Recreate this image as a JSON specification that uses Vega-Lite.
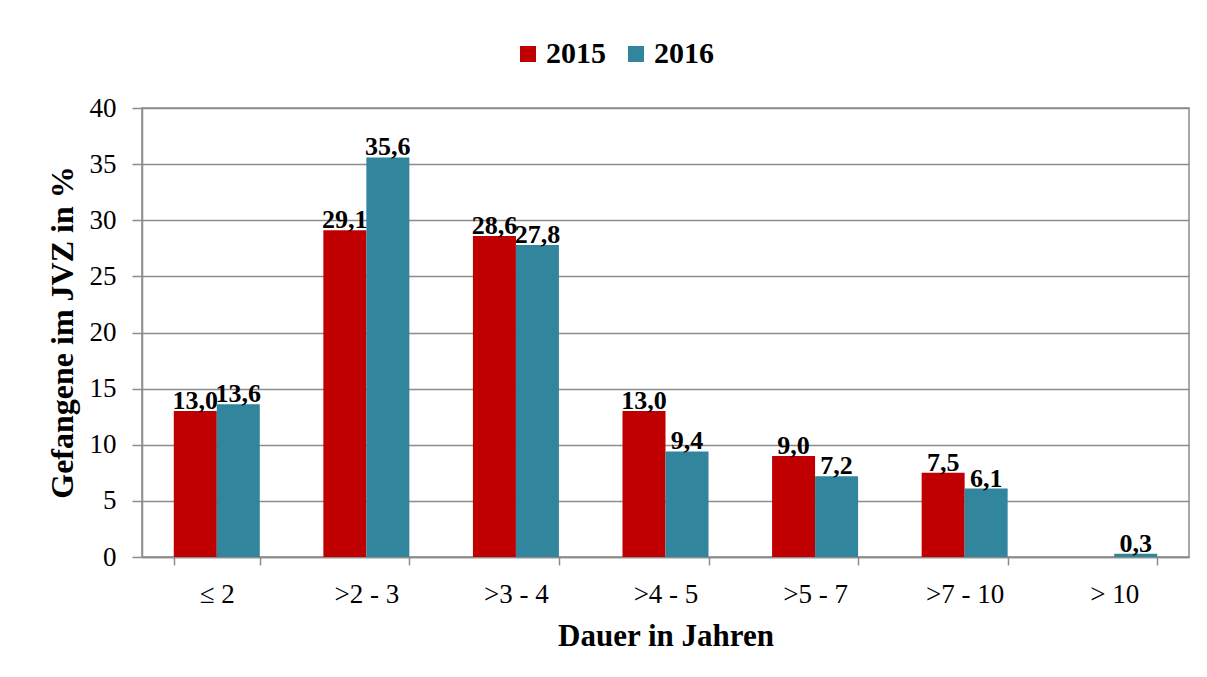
{
  "$schema": "https://vega.github.io/schema/vega-lite/v6.json",
  "autosize": {"type": "none"},
  "width": 1047,
  "height": 449,
  "padding": {"left": 142, "top": 108, "right": 18, "bottom": 120},
  "background": "white",
  "config": {
    "locale": {"number": {"decimal": ",", "thousands": ".", "grouping": [3], "currency": ["", " €"]}},
    "font": "Liberation Serif",
    "view": {"stroke": "#8c8c8c", "strokeWidth": 1.5},
    "axis": {
      "labelFont": "Liberation Serif",
      "titleFont": "Liberation Serif",
      "labelColor": "#000000",
      "titleColor": "#000000",
      "domainColor": "#8c8c8c",
      "tickColor": "#8c8c8c",
      "gridColor": "#8c8c8c",
      "domainWidth": 1.5,
      "tickWidth": 1.5,
      "gridWidth": 1.5
    },
    "legend": {"labelFont": "Liberation Serif"},
    "text": {"font": "Liberation Serif"}
  },
  "data": {
    "values": [
      {"dauer": "≤ 2", "jahr": "2015", "wert": 13.0},
      {"dauer": "≤ 2", "jahr": "2016", "wert": 13.6},
      {"dauer": ">2 - 3", "jahr": "2015", "wert": 29.1},
      {"dauer": ">2 - 3", "jahr": "2016", "wert": 35.6},
      {"dauer": ">3 - 4", "jahr": "2015", "wert": 28.6},
      {"dauer": ">3 - 4", "jahr": "2016", "wert": 27.8},
      {"dauer": ">4 - 5", "jahr": "2015", "wert": 13.0},
      {"dauer": ">4 - 5", "jahr": "2016", "wert": 9.4},
      {"dauer": ">5 - 7", "jahr": "2015", "wert": 9.0},
      {"dauer": ">5 - 7", "jahr": "2016", "wert": 7.2},
      {"dauer": ">7 - 10", "jahr": "2015", "wert": 7.5},
      {"dauer": ">7 - 10", "jahr": "2016", "wert": 6.1},
      {"dauer": "> 10", "jahr": "2016", "wert": 0.3}
    ]
  },
  "encoding": {
    "x": {
      "field": "dauer",
      "type": "nominal",
      "sort": ["≤ 2", ">2 - 3", ">3 - 4", ">4 - 5", ">5 - 7", ">7 - 10", "> 10"],
      "scale": {"paddingInner": 0.425, "paddingOuter": 0.2125},
      "axis": {
        "title": "Dauer in Jahren",
        "labelAngle": 0,
        "labelFont": "Liberation Serif",
        "labelFontSize": 27,
        "labelBaseline": "alphabetic",
        "labelPadding": 37,
        "tickSize": 8,
        "tickBand": "extent",
        "grid": false,
        "titleFont": "Liberation Serif",
        "titleFontSize": 31,
        "titleFontWeight": "bold",
        "titleBaseline": "alphabetic",
        "titleY": 88
      }
    },
    "xOffset": {"field": "jahr", "type": "nominal", "scale": {"domain": ["2015", "2016"], "paddingInner": 0, "paddingOuter": 0}},
    "y": {
      "field": "wert",
      "type": "quantitative",
      "scale": {"domain": [0, 40], "nice": false},
      "axis": {
        "title": "Gefangene im JVZ in %",
        "values": [0, 5, 10, 15, 20, 25, 30, 35, 40],
        "format": "d",
        "labelFont": "Liberation Serif",
        "labelFontSize": 27,
        "labelPadding": 16,
        "tickSize": 10,
        "grid": true,
        "titleFont": "Liberation Serif",
        "titleFontSize": 32,
        "titleFontWeight": "bold",
        "titleAngle": -90,
        "titleBaseline": "middle",
        "titleX": -80,
        "titleY": 224
      }
    }
  },
  "layer": [
    {
      "mark": {"type": "bar"},
      "encoding": {
        "color": {
          "field": "jahr",
          "type": "nominal",
          "scale": {"domain": ["2015", "2016"], "range": ["#C00000", "#31859C"]},
          "legend": {
            "title": null,
            "orient": "none",
            "direction": "horizontal",
            "legendX": 371,
            "legendY": -69,
            "padding": 0,
            "symbolType": "square",
            "symbolSize": 256,
            "symbolStrokeWidth": 0,
            "labelFont": "Liberation Serif",
            "labelFontSize": 30,
            "labelFontWeight": "bold",
            "labelColor": "#000000",
            "labelOffset": 3,
            "columnPadding": 15
          }
        }
      }
    },
    {
      "mark": {"type": "text", "baseline": "alphabetic", "dy": -2, "font": "Liberation Serif", "fontSize": 26, "fontWeight": "bold", "color": "#000000"},
      "encoding": {
        "text": {"field": "wert", "type": "quantitative", "format": ".1f"}
      }
    }
  ]
}
